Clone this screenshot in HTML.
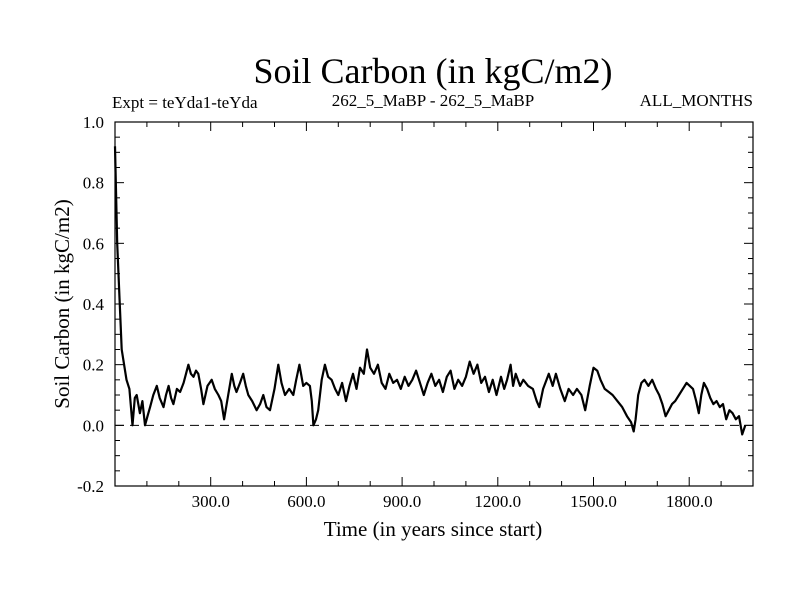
<!DOCTYPE html>
<html><head><meta charset="utf-8"><style>
body{margin:0;background:#fff}
svg text{font-family:"Liberation Serif",serif;fill:#000}
</style></head><body>
<svg width="800" height="600" xmlns="http://www.w3.org/2000/svg">
<rect width="800" height="600" fill="#fff"/>
<text x="433" y="83" font-size="36" text-anchor="middle">Soil Carbon (in kgC/m2)</text>
<text x="112" y="108" font-size="17">Expt = teYda1-teYda</text>
<text x="433" y="106" font-size="17" text-anchor="middle">262_5_MaBP - 262_5_MaBP</text>
<text x="753" y="106" font-size="17" text-anchor="end">ALL_MONTHS</text>
<text transform="translate(69,304) rotate(-90)" font-size="21" text-anchor="middle">Soil Carbon (in kgC/m2)</text>
<text x="433" y="536" font-size="21" text-anchor="middle">Time (in years since start)</text>
<g id="axes"></g>
<g id="series"></g>
<rect x="115" y="122" width="638" height="364" fill="none" stroke="#000" stroke-width="1.2"/>
</svg>
<script>
const xTicks=[300,600,900,1200,1500,1800];
const xTickLabels=["300.0","600.0","900.0","1200.0","1500.0","1800.0"];
const yTicks=[-0.2,0,0.2,0.4,0.6,0.8,1.0];
const yTickLabels=["-0.2","0.0","0.2","0.4","0.6","0.8","1.0"];
const years=[0,7,14,21,36,45,55,62,68,78,86,94,102,110,120,131,140,152,160,168,176,183,194,204,215,230,238,246,254,261,270,277,290,303,313,324,333,342,355,366,374,381,392,402,410,418,430,444,455,465,475,486,500,512,522,533,546,559,568,578,590,600,611,617,622,630,637,648,658,668,679,690,700,712,724,735,746,757,768,780,790,800,812,824,836,848,860,872,884,896,908,920,932,944,956,968,980,992,1004,1016,1028,1040,1052,1064,1076,1088,1100,1112,1124,1136,1148,1160,1172,1184,1196,1210,1220,1229,1240,1248,1256,1270,1280,1295,1310,1322,1330,1342,1360,1372,1382,1396,1410,1422,1436,1448,1462,1474,1488,1500,1512,1522,1535,1548,1560,1575,1590,1605,1618,1626,1632,1640,1650,1660,1672,1684,1696,1706,1716,1726,1736,1746,1756,1768,1780,1792,1802,1812,1822,1830,1838,1846,1856,1866,1876,1886,1896,1906,1916,1926,1936,1946,1956,1966,1976,1984,1992,1997];
const values=[0.92,0.6,0.42,0.25,0.15,0.12,0.0,0.09,0.1,0.04,0.08,0.0,0.03,0.06,0.1,0.13,0.09,0.06,0.1,0.13,0.09,0.07,0.12,0.11,0.14,0.2,0.17,0.16,0.18,0.17,0.12,0.07,0.13,0.15,0.12,0.1,0.08,0.02,0.1,0.17,0.13,0.11,0.14,0.17,0.13,0.1,0.08,0.05,0.07,0.1,0.06,0.05,0.12,0.2,0.14,0.1,0.12,0.1,0.15,0.2,0.13,0.14,0.13,0.08,0.0,0.02,0.05,0.15,0.2,0.16,0.15,0.12,0.1,0.14,0.08,0.13,0.17,0.12,0.19,0.17,0.25,0.19,0.17,0.2,0.14,0.12,0.17,0.14,0.15,0.12,0.16,0.13,0.15,0.18,0.14,0.1,0.14,0.17,0.13,0.15,0.11,0.16,0.18,0.12,0.15,0.13,0.16,0.21,0.17,0.2,0.14,0.16,0.11,0.15,0.1,0.16,0.12,0.15,0.2,0.13,0.17,0.13,0.15,0.13,0.12,0.08,0.06,0.12,0.17,0.13,0.17,0.12,0.08,0.12,0.1,0.12,0.1,0.05,0.13,0.19,0.18,0.15,0.12,0.11,0.1,0.08,0.06,0.03,0.01,-0.02,0.02,0.1,0.14,0.15,0.13,0.15,0.12,0.1,0.07,0.03,0.05,0.07,0.08,0.1,0.12,0.14,0.13,0.12,0.08,0.04,0.1,0.14,0.12,0.09,0.07,0.08,0.06,0.07,0.02,0.05,0.04,0.02,0.03,-0.03,0.0];
const X0=115,X1=753,Y0=486,Y1=122,xMin=0,xMax=2000,yMin=-0.2,yMax=1.0;
const sx=t=>X0+(t-xMin)/(xMax-xMin)*(X1-X0);
const sy=v=>Y0-(v-yMin)/(yMax-yMin)*(Y0-Y1);
const NS="http://www.w3.org/2000/svg";
const ax=document.getElementById('axes');
function mk(tag,attrs,parent){const e=document.createElementNS(NS,tag);for(const k in attrs)e.setAttribute(k,attrs[k]);parent.appendChild(e);return e;}
for(let t=100;t<xMax;t+=100){
  const major=t%300===0,L=major?9:5,x=sx(t);
  const a=mk('line',{x1:x,x2:x,y1:Y0,y2:Y0-L,stroke:'#000'},ax);
  
  
  const b=mk('line',{x1:x,x2:x,y1:Y1,y2:Y1+L,stroke:'#000'},ax);
  
  
}
xTicks.forEach((t,i)=>{
  const tx=mk('text',{x:sx(t),y:Y0+21,'font-size':17,'text-anchor':'middle'},ax);
  tx.textContent=xTickLabels[i];
  
  
});
for(let k=-4;k<=20;k++){
  const v=k*0.05;if(v<=yMin+1e-9||v>=yMax-1e-9)continue;
  const major=k%4===0,L=major?9:5,y=sy(v);
  const a=mk('line',{x1:X0,x2:X0+L,y1:y,y2:y,stroke:'#000'},ax);
  
  
  const b=mk('line',{x1:X1,x2:X1-L,y1:y,y2:y,stroke:'#000'},ax);
  
  
}
yTicks.forEach((v,i)=>{
  const tx=mk('text',{x:X0-11,y:sy(v)+6,'font-size':17,'text-anchor':'end'},ax);
  tx.textContent=yTickLabels[i];
  
  
});
const z=mk('line',{x1:X0,x2:X1,y1:sy(0),y2:sy(0),stroke:'#000','stroke-dasharray':'9,6'},ax);


const pts=years.map((t,i)=>sx(t).toFixed(1)+','+sy(values[i]).toFixed(1)).join(' ');
const pl=mk('polyline',{points:pts,fill:'none',stroke:'#000','stroke-width':2.2,'stroke-linejoin':'round'},document.getElementById('series'));


</script>
</body></html>
